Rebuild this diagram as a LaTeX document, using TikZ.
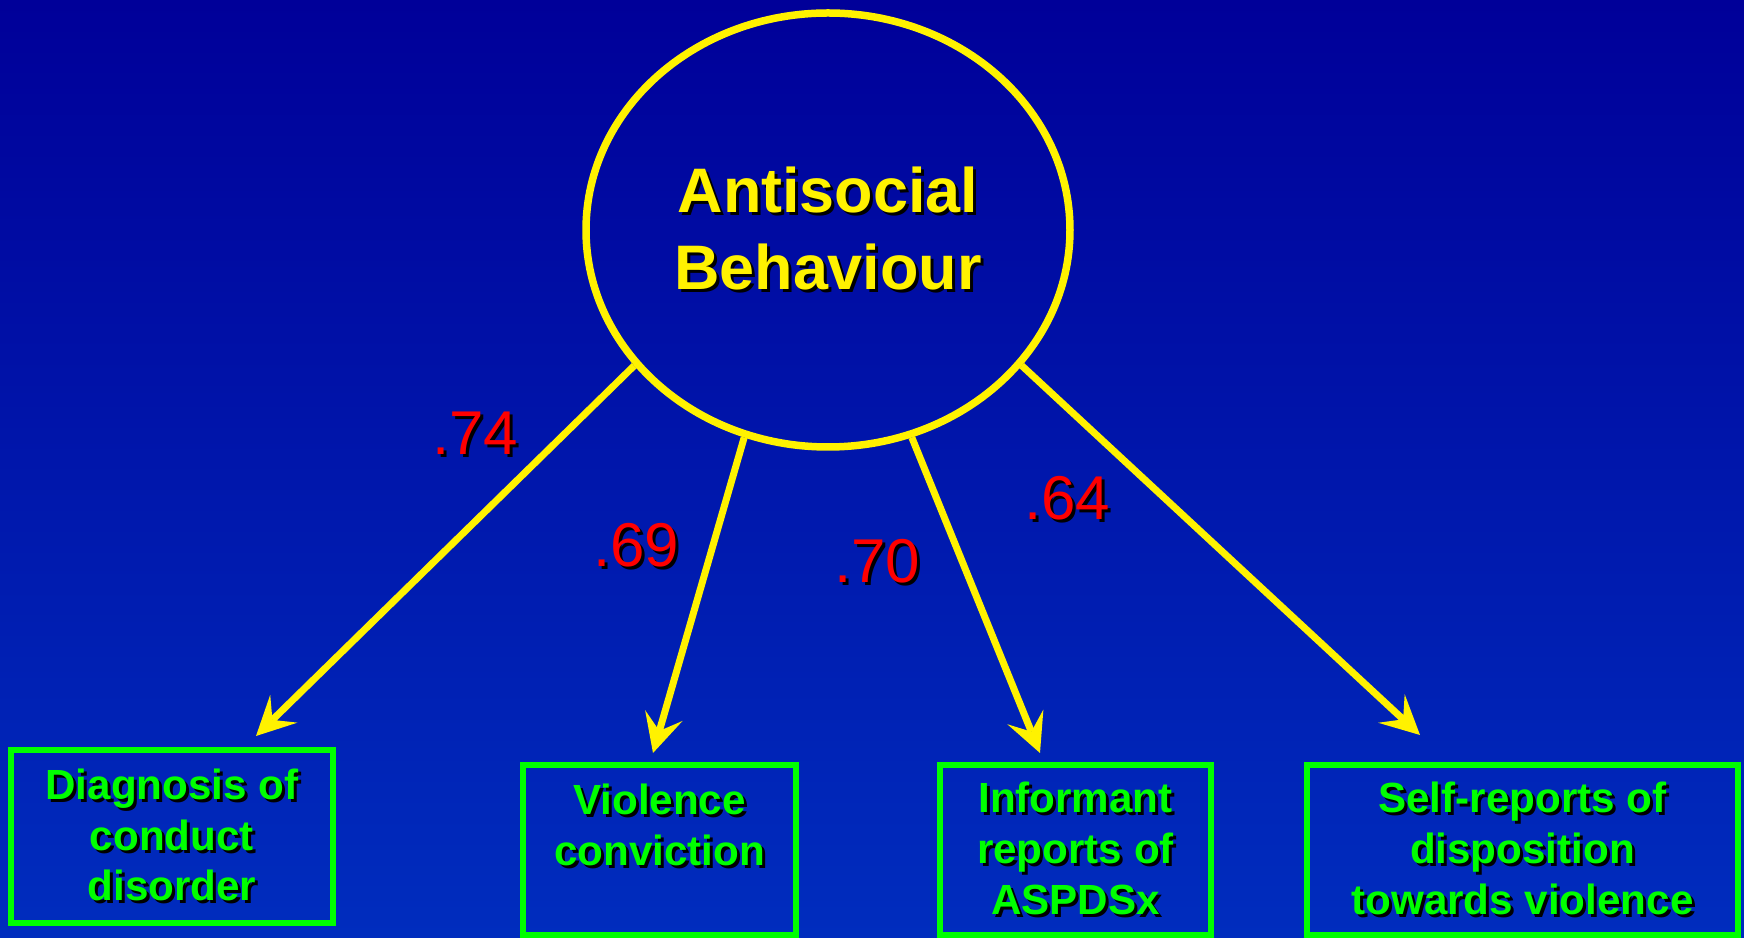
\documentclass[tikz,border=0pt]{standalone}
\usepackage{fontspec}
\setmainfont{Liberation Sans}
\usetikzlibrary{shapes.geometric, arrows.meta}
\definecolor{bgtop}{RGB}{0,0,153}
\definecolor{bgbot}{RGB}{0,45,190}
\definecolor{lime}{RGB}{0,255,0}
% text with a black drop shadow
\newcommand\shd[1]{\rlap{\hspace{0.3mm}\raisebox{-0.3mm}{\color{black}#1}}#1}
\begin{document}
\begin{tikzpicture}[x=0.1mm, y=-0.1mm,
  latent/.style={ellipse, draw=yellow, line width=0.75mm, text=yellow, align=center,
    minimum width=48.4mm, minimum height=43.4mm, inner sep=0pt,
    font=\fontsize{17.9pt}{21.9pt}\selectfont\bfseries},
  measure/.style={rectangle, draw=lime, line width=0.55mm, text=lime, align=center,
    inner sep=0pt, font=\fontsize{12pt}{14.4pt}\selectfont\bfseries,
    execute at begin node={\rule{0pt}{3.75mm}}},
  loading/.style={text=red, anchor=base, inner sep=0pt, font=\fontsize{17.6pt}{20pt}\selectfont},
  path/.style={draw=yellow, line width=0.7mm,
    -{Stealth[length=3.9mm, width=3.9mm, inset=1.6mm, line width=0pt]}}]
\shade[top color=bgtop, bottom color=bgbot] (0,0) rectangle (1744,938);
\node[latent] (ab) at (828,230) {\shd{Antisocial}\\\shd{Behaviour}};
\node[measure, minimum width=32.2mm, minimum height=17.3mm] (cd) at (172,836.5)
  {\shd{Diagnosis of}\\\shd{conduct}\\\shd{disorder}};
\node[measure, minimum width=27.3mm, minimum height=17mm] (vc) at (659.5,850)
  {\shd{Violence}\\\shd{conviction}\\\mbox{}};
\node[measure, minimum width=27.1mm, minimum height=17mm] (ir) at (1075.5,850)
  {\shd{Informant}\\\shd{reports of}\\\shd{ASPDSx}};
\node[measure, minimum width=43.1mm, minimum height=17mm] (sr) at (1522.5,850)
  {\shd{Self-reports of}\\\shd{disposition}\\\shd{towards violence}};
\coordinate (t1) at (256,736);
\coordinate (t2) at (653,753);
\coordinate (t3) at (1040,753);
\coordinate (t4) at (1420,735);
\draw[path] (ab.215.6) -- (t1);
\draw[path] (ab.248.1) -- (t2);
\draw[path] (ab.292.1) -- (t3);
\draw[path] (ab.325.2) -- (t4);
\node[loading] (l1) at (475,455) {\shd{.74}};
\node[loading] (l2) at (636,567) {\shd{.69}};
\node[loading] (l3) at (877,583) {\shd{.70}};
\node[loading] (l4) at (1067,520) {\shd{.64}};
\end{tikzpicture}
\end{document}
